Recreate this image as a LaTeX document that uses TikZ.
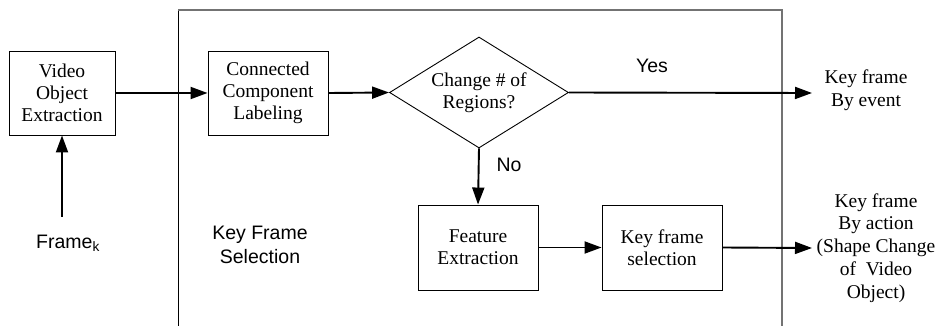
\documentclass[tikz,border=0pt]{standalone}
\usepackage{fontspec}
\setmainfont{Liberation Serif}
\setsansfont{Liberation Sans}
\usetikzlibrary{shapes.geometric,arrows.meta}
\begin{document}
\begin{tikzpicture}[x=1pt,y=-1pt,
  boxtxt/.style={font=\fontsize{19.5}{21.8}\selectfont, align=center},
  sanstxt/.style={font=\sffamily\fontsize{19.5}{24}\selectfont, align=center},
  procbox/.style={draw, line width=0.9pt, boxtxt, inner sep=0pt},
  arr/.style={line width=1.9pt, -{Triangle[length=17pt,width=12pt]}, shorten >=0pt}
]
\useasboundingbox (0,0) rectangle (938,326);
% outer frame
\draw[line width=0.9pt, black] (178,326) -- (178,10);
\draw[line width=1.2pt, black!55] (178,10) -- (782,10) -- (782,326);

\node[procbox, minimum width=106pt, minimum height=84pt] (voe) at (62,93) {Video\\Object\\Extraction};
\node[procbox, minimum width=120pt, minimum height=84pt] (ccl) at (268,93) {Connected\\Component\\Labeling};
\node[draw, line width=0.9pt, boxtxt, shape=diamond, aspect=1.61, inner sep=0pt, minimum width=179pt, minimum height=111pt] (dec) at (479,92.5) {Change \# of\\Regions?};
\node[procbox, minimum width=120pt, minimum height=85pt] (fe) at (478,247.5) {Feature\\Extraction};
\node[procbox, minimum width=120pt, minimum height=85pt] (kfs) at (662,247.5) {Key frame\\selection};

\node[sanstxt] (framek) at (68,243) {Frame\textsubscript{k}};
\node[sanstxt] (kfsel) at (260,245) {Key Frame\\Selection};
\node[sanstxt] (yes) at (652,66) {Yes};
\node[sanstxt] (no) at (509,165) {No};
\node[boxtxt, inner sep=0pt, font=\fontsize{19.5}{22.5}\selectfont] (event) at (866,90) {Key frame\\By event};
\node[boxtxt, inner sep=0pt, font=\fontsize{19.5}{22.8}\selectfont] (action) at (876,248) {Key frame\\By action\\(Shape Change\\of~ Video\\Object)};

\coordinate (fstart) at (62,217);
\coordinate (yesend) at (812,93);
\coordinate (actend) at (812,248);

\draw[arr] (fstart) -- (voe.south);
\draw[arr] (voe.east) -- (ccl.west);
\draw[arr] (ccl.east) -- (dec.west);
\draw[arr] (dec.east) -- (yesend);
\draw[arr] (dec.south) -- (fe.north);
\draw[arr] (fe.east) -- (kfs.west);
\draw[arr] (kfs.east) -- (actend);
\end{tikzpicture}
\end{document}
